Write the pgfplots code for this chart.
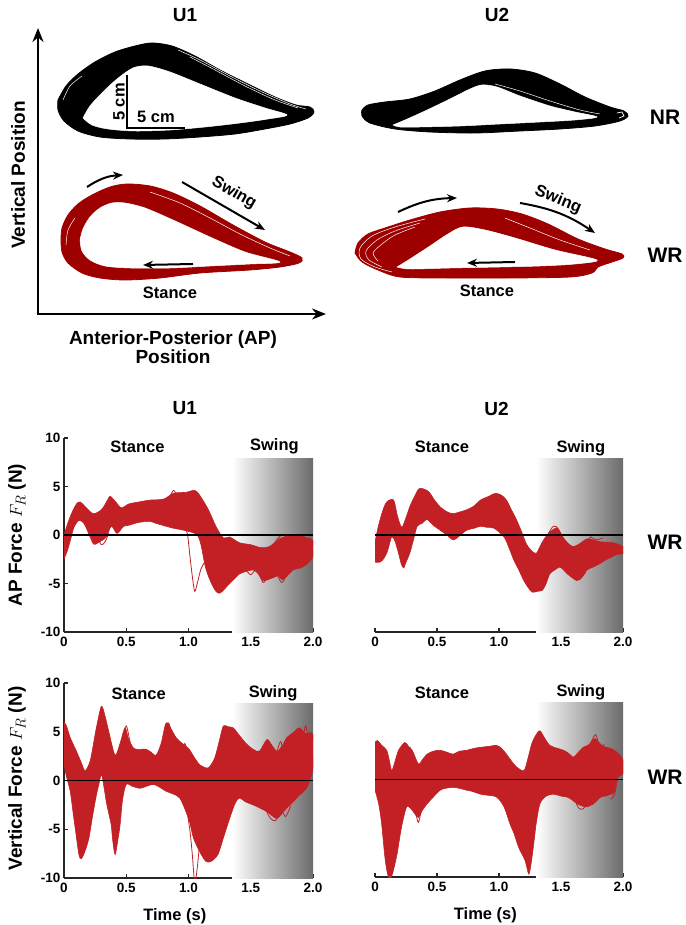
\documentclass[border=0pt]{standalone}
\usepackage{pgfplots}
\pgfplotsset{compat=1.18}
\usepackage{fontspec}
\setmainfont{Liberation Sans}
\usetikzlibrary{arrows.meta}
\definecolor{loopred}{RGB}{158,0,0}
\definecolor{forcered}{RGB}{194,32,36}
\pgfplotsset{
 forceax/.style={scale only axis, width=249pt, height=194pt, xmin=0, xmax=2, ymin=-10, ymax=10,
   axis x line*=bottom, axis y line*=left, axis line style={-, line width=1.3pt, black!85},
   xtick={0,0.5,1,1.5,2}, xticklabels={0,0.5,1.0,1.5,2.0},
   ytick={-10,-5,0,5,10}, yticklabels={-10,-5,0,5,10},
   tick align=inside, major tick length=4pt, tick style={line width=1.2pt, black!85},
   ticklabel style={font=\bfseries\fontsize{13.5}{14}\selectfont},
   x tick label style={yshift=-2pt},
   clip mode=individual},
 band/.style={draw=forcered, fill=forcered, line width=0.6pt, smooth, tension=0.5},
 trace/.style={forcered, line width=0.8pt, smooth, tension=0.5},
}
\tikzset{
 lab/.style={font=\bfseries\fontsize{16.5}{17}\selectfont},
 big/.style={font=\bfseries\fontsize{19}{19}\selectfont},
 huge/.style={font=\bfseries\fontsize{21}{21}\selectfont},
 arr/.style={line width=2pt, -{Stealth[length=10pt,width=8pt]}},
 strand/.style={white, line width=0.5pt},
}
\begin{document}
\begin{tikzpicture}
\path[use as bounding box] (0pt,0pt) rectangle (685pt,-925pt);
% ---------------- top canvas ----------------
\begin{axis}[at={(0pt,-925pt)}, anchor=south west, scale only axis, width=685pt, height=925pt,
  xmin=0, xmax=685, ymin=-925, ymax=0, hide axis, clip=false]
% U1 NR
\addplot[fill=black, draw=black, line width=0.8pt, smooth] coordinates {
(58,-100)(66,-86)(78,-74)(95,-62)(115,-52)(135,-46)(152,-43)(172,-46)(195,-56)(220,-70)(248,-84)(275,-97)(296,-105)(310,-107)(314,-112)(308,-118)(290,-124)(265,-129)(235,-134)(200,-137)(165,-139)(130,-139)(100,-137)(78,-131)(64,-121)(58,-110)(58,-100)};
\addplot[fill=white, draw=white, line width=0.5pt, smooth] coordinates {
(83,-118)(90,-106)(102,-93)(117,-79)(133,-68)(148,-66)(170,-72)(200,-84)(235,-98)(265,-108)(287,-115)(268,-119)(240,-123)(205,-127)(170,-130)(135,-131)(108,-129)(92,-125)(83,-118)};
\addplot[strand, smooth] coordinates {(178,-50)(200,-60)(230,-76)(260,-91)(290,-104)(306,-109)};
\addplot[strand, smooth] coordinates {(190,-57)(215,-70)(245,-86)(275,-100)(298,-108)};
\addplot[strand, smooth] coordinates {(63,-100)(70,-86)(82,-76)};
% U1 WR
\addplot[fill=loopred, draw=loopred, line width=0.8pt, smooth] coordinates {
(61,-240)(62,-228)(68,-215)(78,-204)(92,-195)(110,-187)(127,-184)(150,-186)(173,-193)(200,-206)(233,-225)(265,-242)(290,-252)(302,-258)(299,-263)(280,-267)(250,-270)(200,-273)(160,-278)(125,-280)(100,-278)(82,-273)(68,-263)(62,-252)(61,-240)};
\addplot[fill=white, draw=white, line width=0.5pt, smooth] coordinates {
(80,-240)(83,-229)(90,-217)(100,-208)(112,-203)(125,-203)(145,-208)(173,-220)(210,-237)(245,-252)(280,-262)(250,-264)(210,-266)(170,-268)(130,-268)(105,-266)(90,-260)(82,-251)(80,-240)};
\addplot[strand, smooth] coordinates {(150,-192)(180,-203)(210,-218)(240,-234)(270,-248)(290,-256)};
\addplot[strand, smooth] coordinates {(66,-245)(68,-230)(75,-218)};
% U2 NR
\addplot[fill=black, draw=black, line width=0.8pt, smooth] coordinates {
(362,-110)(368,-105)(385,-102)(410,-99)(435,-91)(460,-80)(485,-71)(510,-69)(535,-73)(560,-84)(585,-97)(610,-107)(624,-111)(628,-116)(620,-121)(595,-126)(560,-129)(520,-131)(475,-133)(430,-132)(395,-129)(370,-123)(362,-116)(362,-110)};
\addplot[fill=white, draw=white, line width=0.5pt, smooth] coordinates {
(393,-125)(405,-120)(425,-111)(450,-99)(470,-89)(482,-85)(497,-87)(520,-96)(550,-106)(575,-112)(597,-117)(575,-120)(540,-122)(500,-124)(460,-126)(420,-127)(400,-127)(393,-125)};
\addplot[strand, smooth] coordinates {(495,-84)(520,-91)(550,-101)(580,-110)(600,-114)};
\addplot[strand, line width=0.7pt] coordinates {(617,-113)(622,-112)(624,-116)(619,-118)};
% U2 WR
\addplot[fill=loopred, draw=loopred, line width=0.8pt, smooth] coordinates {
(355,-253)(358,-243)(368,-234)(385,-228)(410,-220)(440,-212)(470,-208)(497,-209)(522,-214)(548,-224)(578,-239)(605,-249)(622,-254)(623,-258)(612,-262)(598,-267)(592,-273)(570,-277)(510,-278)(445,-278)(400,-277)(378,-270)(362,-262)(355,-253)};
\addplot[fill=white, draw=white, line width=0.5pt, smooth] coordinates {
(397,-267)(410,-259)(430,-246)(448,-234)(463,-227)(485,-230)(515,-238)(555,-250)(597,-260)(575,-264)(540,-266)(500,-267)(450,-268)(410,-269)(397,-267)};
\addplot[strand, smooth] coordinates {(425,-219)(395,-227)(372,-236)(360,-248)(361,-259)(375,-267)(392,-272)};
\addplot[strand, smooth] coordinates {(420,-223)(395,-231)(377,-240)(366,-251)(369,-260)(382,-267)};
\addplot[strand, smooth] coordinates {(415,-227)(395,-235)(382,-244)(373,-253)(378,-261)};
\addplot[strand, smooth] coordinates {(505,-218)(530,-228)(560,-240)(590,-250)};
% axes arrows
\draw[line width=2pt, -{Stealth[length=14pt,width=11pt]}] (38,-315) -- (38,-28);
\draw[line width=2pt, -{Stealth[length=14pt,width=11pt]}] (37,-314) -- (326,-314);
\node[big, rotate=90] at (18,-175) {Vertical Position};
\node[font=\bfseries\fontsize{19}{19}\selectfont, align=center] at (173,-347) {Anterior-Posterior (AP)\\Position};
\node[big] at (185,-15) {U1};
\node[big] at (497,-15) {U2};
\node[huge] at (665,-117) {NR};
\node[huge] at (665,-255) {WR};
% scale bar
\draw[line width=1.3pt] (127,-75) -- (127,-128) -- (185,-128);
\node[lab, rotate=90] at (119,-102) {5 cm};
\node[lab] at (156,-117) {5 cm};
% U1 arrows
\draw[arr] (87,-187) to[bend left=15] (123,-175);
\draw[arr] (182,-182) -- (265,-230);
\node[lab, rotate=-30] at (234,-193) {Swing};
\draw[arr] (193,-264) -- (143,-265);
\node[lab] at (170,-293) {Stance};
% U2 arrows
\draw[arr] (398,-212) to[bend left=12] (457,-198);
\draw[arr] (520,-203) to[bend left=12] (595,-233);
\node[lab, rotate=-22] at (558,-200) {Swing};
\draw[arr] (515,-262) -- (467,-263);
\node[lab] at (487,-291) {Stance};
\end{axis}
% ---------------- AP U1 ----------------
\begin{axis}[forceax, at={(64pt,-632pt)}, anchor=south west]
\fill[left color=white, right color=black!58] (1.35,-10) rectangle (2,7.9);
\addplot[band] coordinates {
(0,0)(0.03,1.2)(0.06,2.2)(0.1,3.2)(0.13,3.4)(0.18,2.8)(0.235,2.2)(0.3,2.6)(0.35,3.6)(0.37,4.0)(0.41,3.5)(0.46,2.8)(0.52,3.2)(0.6,3.4)(0.69,3.6)(0.8,3.7)(0.88,4.3)(0.98,4.4)(1.05,4.6)(1.09,4.1)(1.16,2.6)(1.22,0.9)(1.28,-0.3)(1.33,-0.2)(1.41,-0.8)(1.5,-1.0)(1.58,-1.3)(1.65,-1.2)(1.73,-0.4)(1.81,-0.1)(1.89,-0.1)(1.95,-0.3)(2.0,-0.6)
(2.0,-2.2)(1.95,-3.0)(1.9,-3.4)(1.84,-3.6)(1.76,-4.6)(1.72,-4.2)(1.68,-4.4)(1.6,-4.7)(1.56,-4.0)(1.52,-3.6)(1.45,-3.8)(1.41,-4.0)(1.33,-5.0)(1.25,-6.0)(1.2,-5.4)(1.14,-3.5)(1.1,-1.0)(1.07,0.0)(1.02,0.3)(0.96,0.5)(0.88,0.7)(0.82,0.9)(0.74,1.2)(0.69,1.4)(0.6,1.3)(0.52,1.0)(0.48,0.9)(0.44,0.3)(0.42,0.2)(0.38,0.9)(0.34,-0.2)(0.3,-0.6)(0.26,-0.9)(0.235,-0.9)(0.2,0.1)(0.16,1.2)(0.12,1.5)(0.08,0.8)(0.05,-0.6)(0.03,-1.5)(0,-2.5)};
\addplot[trace] coordinates {(0.96,0.8)(0.99,0.2)(1.01,-2.0)(1.03,-4.2)(1.05,-5.8)(1.07,-5.0)(1.1,-3.5)(1.13,-2.8)};
\addplot[trace] coordinates {(1.45,-3.4)(1.5,-4.1)(1.55,-3.5)(1.6,-4.9)(1.64,-4.1)(1.7,-3.9)(1.75,-4.9)(1.8,-3.8)(1.86,-3.4)};
\addplot[trace] coordinates {(0.27,-0.3)(0.3,-1.0)(0.33,-0.7)(0.36,0.2)};
\addplot[trace] coordinates {(0.8,3.6)(0.85,4.0)(0.88,4.6)(0.91,4.1)(0.95,4.3)};
\addplot[trace] coordinates {(1.7,-0.6)(1.75,0.0)(1.8,-0.3)(1.86,0.0)(1.93,-0.2)(1.98,-0.8)};
\addplot[black, line width=1.5pt] coordinates {(0,0)(2,0)};
\node[lab] at (0.59,9.1) {Stance};
\node[lab] at (1.69,9.1) {Swing};
\node[big] at (0.97,13.1) {U1};
\node[big, rotate=90] at (-0.378,0) {AP Force $F_R$ (N)};
\end{axis}
% ---------------- AP U2 ----------------
\begin{axis}[forceax, at={(375pt,-632pt)}, anchor=south west, width=248pt, axis y line=none]
\fill[left color=white, right color=black!58] (1.30,-10) rectangle (2,7.9);
\addplot[band] coordinates {
(0,-0.7)(0.027,0.9)(0.06,2.4)(0.094,3.4)(0.15,3.6)(0.18,2.0)(0.215,0.8)(0.25,1.8)(0.28,2.9)(0.32,4.0)(0.36,4.8)(0.43,4.5)(0.48,3.6)(0.525,2.9)(0.58,2.4)(0.63,2.2)(0.69,2.4)(0.74,2.6)(0.8,3.0)(0.85,3.6)(0.92,4.0)(0.97,4.3)(1.02,4.1)(1.06,3.6)(1.1,2.6)(1.14,1.6)(1.18,0.4)(1.22,-0.9)(1.26,-1.6)(1.3,-1.9)(1.33,-1.2)(1.36,-0.5)(1.41,0.3)(1.47,0.7)(1.52,-0.3)(1.56,-0.9)(1.6,-1.2)(1.65,-0.9)(1.71,-0.4)(1.76,-0.5)(1.82,-0.7)(1.92,-0.8)(2.0,-1.2)
(2.0,-1.9)(1.95,-2.0)(1.92,-2.2)(1.87,-2.5)(1.82,-2.9)(1.76,-3.3)(1.71,-3.6)(1.67,-4.3)(1.63,-4.7)(1.58,-4.3)(1.55,-4.0)(1.52,-3.6)(1.49,-3.3)(1.45,-3.6)(1.41,-4.0)(1.38,-5.0)(1.35,-5.7)(1.31,-5.8)(1.27,-5.9)(1.24,-5.5)(1.2,-4.7)(1.16,-3.6)(1.12,-2.6)(1.08,-1.3)(1.04,-0.2)(0.96,0.7)(0.9,0.8)(0.85,0.9)(0.8,0.7)(0.74,0.5)(0.68,-0.1)(0.63,-0.5)(0.58,0.0)(0.525,0.5)(0.47,1.0)(0.42,1.6)(0.38,1.2)(0.34,0.9)(0.31,-0.5)(0.28,-1.9)(0.25,-2.8)(0.23,-3.4)(0.21,-2.9)(0.19,-1.9)(0.16,-0.6)(0.135,-0.2)(0.115,-1.0)(0.094,-1.9)(0.06,-2.6)(0.04,-2.8)(0,-2.8)};
\addplot[trace] coordinates {(1.36,-1.0)(1.4,0.2)(1.44,0.9)(1.48,0.6)(1.52,-1.2)(1.56,-2.0)};
\addplot[trace] coordinates {(1.5,-2.6)(1.55,-3.4)(1.6,-4.4)(1.65,-4.6)(1.7,-3.8)};
\addplot[trace] coordinates {(1.7,-0.9)(1.74,-0.2)(1.78,-0.5)(1.84,-0.3)};
\addplot[trace] coordinates {(0.55,0.9)(0.6,0.2)(0.64,-0.4)(0.68,0.0)};
\addplot[black, line width=1.5pt] coordinates {(0,0)(2,0)};
\node[lab] at (0.54,9.1) {Stance};
\node[lab] at (1.66,8.9) {Swing};
\node[big] at (0.98,13.0) {U2};
\node[huge] at (2.34,-0.7) {WR};
\end{axis}
% ---------------- Vertical U1 ----------------
\begin{axis}[forceax, at={(64pt,-878pt)}, anchor=south west, height=195pt]
\fill[left color=white, right color=black!58] (1.35,-10) rectangle (2,7.9);
\addplot[band] coordinates {
(0,6.0)(0.02,5.6)(0.05,4.4)(0.1,3.0)(0.14,1.8)(0.17,1.0)(0.21,2.0)(0.24,4.0)(0.26,5.4)(0.3,7.6)(0.33,6.6)(0.36,5.0)(0.41,2.6)(0.45,3.8)(0.49,5.4)(0.52,4.2)(0.56,3.3)(0.6,3.2)(0.66,3.2)(0.7,2.9)(0.74,2.6)(0.78,3.8)(0.82,5.9)(0.86,5.3)(0.9,4.4)(0.95,3.8)(1.0,3.3)(1.05,2.3)(1.09,1.6)(1.12,1.4)(1.16,1.3)(1.21,2.3)(1.25,4.2)(1.28,5.6)(1.32,5.5)(1.36,5.4)(1.41,4.6)(1.47,3.7)(1.52,3.2)(1.57,3.0)(1.63,4.2)(1.67,3.6)(1.71,3.0)(1.75,3.5)(1.79,4.4)(1.84,4.9)(1.89,5.4)(1.94,4.8)(2.0,4.7)
(2.0,1.3)(1.96,-0.5)(1.92,-1.2)(1.89,-1.5)(1.84,-2.2)(1.79,-2.8)(1.75,-3.4)(1.71,-3.9)(1.67,-3.6)(1.63,-3.2)(1.57,-2.8)(1.52,-2.5)(1.46,-2.2)(1.41,-1.8)(1.38,-2.2)(1.36,-2.8)(1.32,-4.3)(1.28,-5.9)(1.24,-7.5)(1.21,-8.0)(1.18,-8.3)(1.14,-8.3)(1.09,-7.3)(1.04,-5.9)(1.01,-4.3)(0.98,-3.2)(0.93,-1.8)(0.88,-1.4)(0.82,-1.1)(0.77,-0.7)(0.72,-0.4)(0.66,-0.6)(0.61,-0.8)(0.55,-0.6)(0.5,-0.4)(0.47,-2.0)(0.45,-4.6)(0.43,-6.3)(0.41,-7.6)(0.39,-6.0)(0.38,-4.6)(0.36,-3.4)(0.34,-2.2)(0.32,-0.6)(0.3,0.6)(0.28,-0.4)(0.26,-1.5)(0.23,-3.6)(0.2,-5.9)(0.17,-7.2)(0.14,-8.0)(0.12,-7.6)(0.09,-4.9)(0.07,-3.0)(0.05,-1.1)(0.02,0.4)(0,1.6)};
\addplot[trace] coordinates {(0.98,-2.5)(1.01,-5)(1.03,-7.5)(1.05,-10.5)(1.07,-9)(1.09,-6.5)(1.12,-4)};
\addplot[trace] coordinates {(0.44,2.0)(0.47,4.2)(0.5,5.6)(0.53,4.0)(0.56,2.6)};
\addplot[trace] coordinates {(0.78,2.8)(0.81,5.0)(0.84,5.9)(0.87,4.6)(0.9,3.2)(0.94,2.6)(0.97,3.8)(1.0,2.4)};
\addplot[trace] coordinates {(1.1,1.0)(1.13,0.0)(1.16,-1.5)(1.19,0.5)(1.22,1.4)};
\addplot[trace] coordinates {(1.62,-3.0)(1.66,-3.9)(1.7,-4.1)(1.74,-3.0)(1.78,-3.7)(1.82,-2.6)};
\addplot[trace] coordinates {(1.7,2.4)(1.74,4.0)(1.77,2.4)(1.8,4.3)(1.84,3.0)(1.88,5.0)(1.91,3.6)(1.94,5.6)(1.97,3.8)(2.0,4.4)};
\addplot[black, line width=1.5pt] coordinates {(0,0)(2,0)};
\node[lab] at (0.6,8.9) {Stance};
\node[lab] at (1.68,8.9) {Swing};
\node[big, rotate=90] at (-0.378,0.2) {Vertical Force $F_R$ (N)};
\node[lab] at (0.89,-13.9) {Time (s)};
\end{axis}
% ---------------- Vertical U2 ----------------
\begin{axis}[forceax, at={(375pt,-877pt)}, anchor=south west, width=248pt, height=195pt, axis y line=none]
\fill[left color=white, right color=black!58] (1.30,-10) rectangle (2,7.9);
\addplot[band] coordinates {
(0,3.8)(0.02,4.0)(0.054,3.5)(0.094,3.0)(0.115,2.0)(0.135,0.9)(0.16,1.8)(0.19,3.0)(0.24,3.8)(0.27,3.4)(0.3,3.0)(0.35,1.6)(0.38,2.0)(0.42,2.6)(0.47,2.9)(0.525,3.0)(0.58,2.8)(0.63,2.6)(0.68,2.9)(0.74,3.0)(0.8,3.2)(0.85,3.3)(0.92,3.4)(0.98,3.5)(1.02,3.2)(1.06,2.6)(1.1,1.9)(1.14,1.3)(1.2,0.9)(1.23,2.0)(1.265,3.7)(1.3,4.6)(1.33,5.0)(1.37,4.2)(1.41,3.5)(1.47,3.2)(1.52,3.0)(1.56,2.7)(1.6,2.3)(1.64,2.8)(1.68,3.3)(1.73,3.6)(1.77,4.2)(1.79,4.0)(1.84,3.4)(1.9,3.2)(1.95,2.8)(2.0,2.0)
(2.0,0.6)(1.97,0.4)(1.95,0.0)(1.93,-1.3)(1.9,-1.5)(1.86,-1.7)(1.82,-1.8)(1.77,-2.4)(1.71,-2.8)(1.67,-2.7)(1.63,-2.5)(1.59,-2.1)(1.55,-1.8)(1.5,-1.7)(1.44,-1.5)(1.38,-1.7)(1.33,-2.5)(1.3,-4.5)(1.28,-6.6)(1.26,-8.5)(1.24,-9.7)(1.21,-8.3)(1.16,-7.0)(1.12,-5.5)(1.09,-4.6)(1.04,-2.8)(0.98,-1.8)(0.9,-1.6)(0.85,-1.5)(0.78,-1.2)(0.74,-1.1)(0.68,-0.9)(0.63,-0.8)(0.57,-0.9)(0.525,-1.1)(0.47,-1.8)(0.42,-2.5)(0.38,-3.2)(0.35,-3.9)(0.32,-3.5)(0.29,-3.0)(0.255,-2.8)(0.22,-4.5)(0.2,-5.9)(0.18,-7.5)(0.16,-8.7)(0.14,-9.7)(0.12,-10.3)(0.1,-9.6)(0.08,-8.0)(0.054,-4.6)(0.03,-2.5)(0,-1.1)};
\addplot[trace] coordinates {(0.3,-1.5)(0.33,-3.5)(0.35,-4.4)(0.37,-3.4)(0.4,-2.0)};
\addplot[trace] coordinates {(1.6,-1.6)(1.64,-2.9)(1.68,-3.0)(1.72,-2.2)(1.76,-2.6)};
\addplot[trace] coordinates {(1.7,3.0)(1.74,3.8)(1.78,4.6)(1.81,3.4)(1.85,3.6)};
\addplot[trace] coordinates {(1.9,-2.0)(1.93,-1.6)(1.96,0.2)(1.99,1.0)};
\addplot[trace] coordinates {(1.22,-1.0)(1.25,-3.0)(1.27,-1.0)(1.3,1.5)};
\addplot[black, line width=1.5pt] coordinates {(0,0)(2,0)};
\node[lab] at (0.54,8.9) {Stance};
\node[lab] at (1.66,8.9) {Swing};
\node[huge] at (2.34,0.2) {WR};
\node[lab] at (0.89,-13.9) {Time (s)};
\end{axis}
\end{tikzpicture}
\end{document}
